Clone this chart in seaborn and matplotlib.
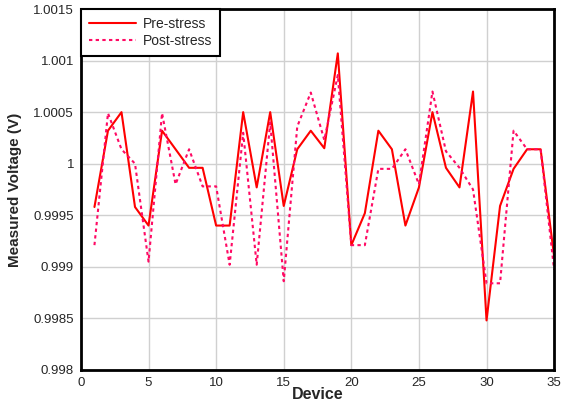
import numpy as np
import pandas as pd
import matplotlib
matplotlib.use('Agg')
import matplotlib.pyplot as plt
import seaborn as sns

# data
devices = list(range(1, 36))
pre_stress = [0.99958, 1.00032, 1.0005, 0.99958, 0.9994, 1.00032, 1.00014, 0.99996, 0.99996, 0.9994,
              0.9994, 1.0005, 0.99977, 1.0005, 0.99959, 1.00014, 1.00032, 1.00015, 1.00107, 0.99921,
              0.99952, 1.00032, 1.00014, 0.9994, 0.99977, 1.0005, 0.99996, 0.99977, 1.0007, 0.99848,
              0.99959, 0.99995, 1.00014, 1.00014, 0.9991]
post_stress = [0.99921, 1.00049, 1.00014, 1.0, 0.99905, 1.00049, 0.9998, 1.00014, 0.99978, 0.99978,
               0.99902, 1.0003, 0.99902, 1.0004, 0.99886, 1.00036, 1.00069, 1.00023, 1.00086, 0.99921,
               0.99921, 0.99995, 0.99995, 1.00014, 0.9998, 1.0007, 1.00012, 0.99996, 0.99975, 0.99884,
               0.99884, 1.00032, 1.00014, 1.00014, 0.99897]
y_ticks = [0.998, 0.9985, 0.999, 0.9995, 1.0, 1.0005, 1.001, 1.0015]
y_labels = ['0.998', '0.9985', '0.999', '0.9995', '1', '1.0005', '1.001', '1.0015']
x_ticks = [0, 5, 10, 15, 20, 25, 30, 35]

df = pd.DataFrame({
    'Device': devices * 2,
    'Voltage': pre_stress + post_stress,
    'Condition': ['Pre-stress'] * 35 + ['Post-stress'] * 35,
})

sns.set_style('white')
plt.rcParams['font.family'] = ['Liberation Sans', 'DejaVu Sans']

fig = plt.figure(figsize=(5.62, 4.11), dpi=100)
ax = fig.add_axes([0.144, 0.1, 0.842, 0.878])

sns.lineplot(data=df, x='Device', y='Voltage', hue='Condition', style='Condition',
             palette={'Pre-stress': '#ff0000', 'Post-stress': '#ff0a64'},
             dashes={'Pre-stress': '', 'Post-stress': (1.6, 1.6)},
             lw=1.5, ax=ax)

ax.set_xlim(0, 35)
ax.set_ylim(0.998, 1.0015)
ax.set_xticks(x_ticks)
ax.set_yticks(y_ticks)
ax.set_yticklabels(y_labels)
ax.tick_params(axis='both', length=0, labelsize=9.5, pad=5)
ax.grid(True, color='#d0d0d0', lw=1)
ax.set_axisbelow(True)
for s in ax.spines.values():
    s.set_color('black')
    s.set_linewidth(2)

ax.set_xlabel('Device', fontsize=11.5, fontweight='bold', labelpad=-1)
ax.set_ylabel('Measured Voltage (V)', fontsize=11, fontweight='bold', labelpad=8)

leg = ax.legend(loc='upper left', fontsize=10, frameon=True, fancybox=False,
                borderaxespad=0, handlelength=3.4, borderpad=0.55, labelspacing=0.25,
                handletextpad=0.5)
leg.get_frame().set_edgecolor('black')
leg.get_frame().set_linewidth(1.5)
leg.get_frame().set_alpha(1)

plt.savefig('out.png', dpi=100)
